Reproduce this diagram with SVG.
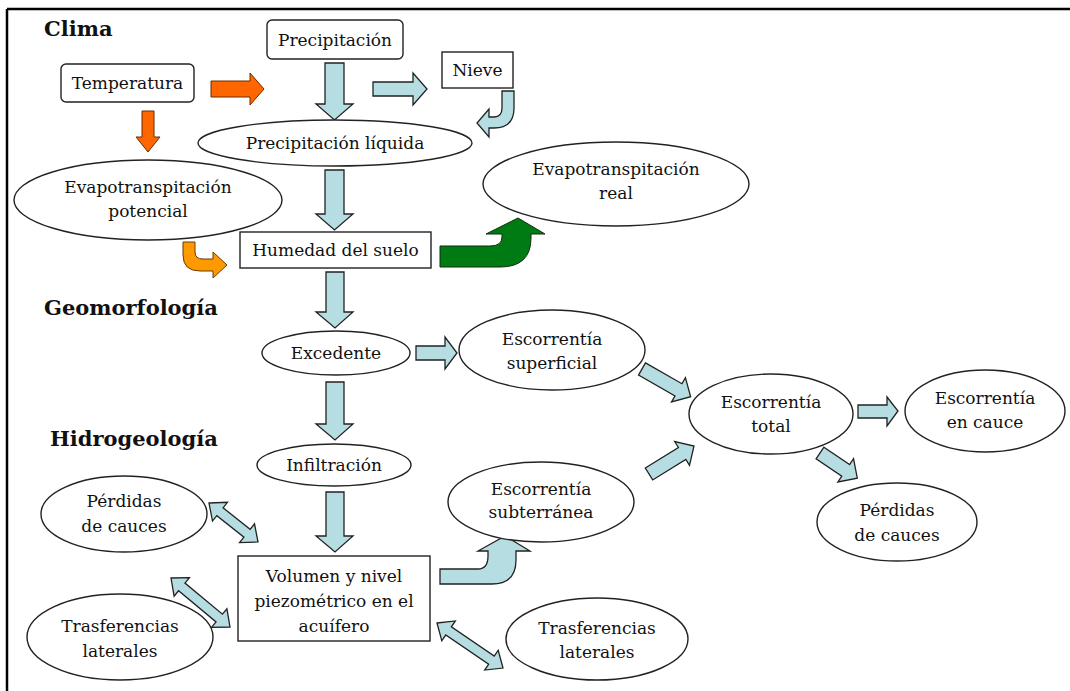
<svg xmlns="http://www.w3.org/2000/svg" width="1070" height="691" viewBox="0 0 1070 691">
<style>
text{font-family:"DejaVu Serif","Liberation Serif",serif;font-size:17px;fill:#111;text-anchor:middle}
.h{font-size:21px;font-weight:bold;text-anchor:start}
.n{fill:#fff;stroke:#222;stroke-width:1.4}
.lb{fill:#b6dde2;stroke:#222;stroke-width:1.3;stroke-linejoin:miter}
.or{fill:#ff6600;stroke:#6a2a00;stroke-width:1}
.oy{fill:#ff9900;stroke:#6a3a00;stroke-width:1}
.gr{fill:#007a12;stroke:#0f2f0f;stroke-width:1}
</style>
<rect x="0" y="0" width="1070" height="691" fill="#fff"/>
<path d="M7 9 H1070 M7 9 V691" stroke="#000" stroke-width="2.5" fill="none"/>
<g id="labels">
<text class="h" x="44" y="36">Clima</text>
<text class="h" x="44" y="315">Geomorfología</text>
<text class="h" x="50" y="446">Hidrogeología</text>
</g>
<g id="connectors">
<polygon class="or" points="211,81 250,81 250,73 264,89 250,105 250,97 211,97"/>
<polygon class="or" points="142,111 154,111 154,137 160,137 148,152 136,137 142,137"/>
<polygon class="lb" points="325,63 344,63 344,104 353,104 334.5,120 316,104 325,104"/>
<polygon class="lb" points="373,82 413,82 413,73 427,89 413,105 413,96 373,96"/>
<path class="lb" d="M502 91 L514 91 L514 108 Q514 128 494 128 L489 128 L489 137 L477 123 L489 109 L489 117 L494 117 Q502 117 502 108 Z"/>
<polygon class="lb" points="325,170 344,170 344,214 353,214 334.5,230 316,214 325,214"/>
<path class="oy" d="M183 242 L195 242 L195 252 Q195 259 203 259 L213 259 L213 252 L227 265 L213 278 L213 271 L200 271 Q183 271 183 255 Z"/>
<path class="gr" d="M440 246 L490 246 Q502 246 502 237 L502 234 L486 234 L518 218 L545 234 L531 234 L531 238 Q531 267 500 267 L440 267 Z"/>
<polygon class="lb" points="326,272 344,272 344,312 353,312 335,328 316,312 326,312"/>
<polygon class="lb" points="416,346 445,346 445,337 457,353 445,369 445,360 416,360"/>
<polygon class="lb" points="326,382 344,382 344,424 353,424 335,440 316,424 326,424"/>
<polygon class="lb" points="326,492 344,492 344,536 353,536 335,552 316,536 326,536"/>
<polygon class="lb" transform="translate(642,369) rotate(29.7)" points="0,-7 42,-7 42,-14 56,0 42,14 42,7 0,7"/>
<polygon class="lb" transform="translate(649,474) rotate(-31.9)" points="0,-7 39,-7 39,-14 53,0 39,14 39,7 0,7"/>
<polygon class="lb" points="858,405 887,405 887,397 898,411 887,426 887,418 858,418"/>
<polygon class="lb" transform="translate(820,453) rotate(34)" points="0,-7 31,-7 31,-14 45,0 31,14 31,7 0,7"/>
<polygon class="lb" transform="translate(209,503) rotate(38.5)" points="0,0 14,-12 14,-5 48.6,-5 48.6,-12 62.6,0 48.6,12 48.6,5 14,5 14,12"/>
<polygon class="lb" transform="translate(171,578) rotate(39.7)" points="0,0 14,-12 14,-5 62.7,-5 62.7,-12 76.7,0 62.7,12 62.7,5 14,5 14,12"/>
<polygon class="lb" transform="translate(437,623) rotate(34.3)" points="0,0 14,-12 14,-5 65.9,-5 65.9,-12 79.9,0 65.9,12 65.9,5 14,5 14,12"/>
<path class="lb" d="M440 569 L478 569 Q488 569 488 556 L488 551 L478 551 L505 536 L530 551 L516 551 L516 560 Q516 584 492 584 L440 584 Z"/>
</g>
<g id="precipitacion"><rect class="n" x="267" y="20" width="136" height="39" rx="5"/><text x="335" y="46">Precipitación</text></g>
<g id="temperatura"><rect class="n" x="61" y="64" width="133" height="38" rx="5"/><text x="127.5" y="89">Temperatura</text></g>
<g id="nieve"><rect class="n" x="442" y="52" width="71" height="36"/><text x="477.5" y="76">Nieve</text></g>
<g id="precip-liquida"><ellipse class="n" cx="335" cy="143" rx="137" ry="23"/><text x="335" y="149">Precipitación líquida</text></g>
<g id="evap-potencial"><ellipse class="n" cx="148" cy="200" rx="134" ry="40"/><text x="148" y="193">Evapotranspitación</text><text x="148" y="217">potencial</text></g>
<g id="evap-real"><ellipse class="n" cx="616" cy="184" rx="133" ry="42"/><text x="616" y="175">Evapotranspitación</text><text x="616" y="199">real</text></g>
<g id="humedad"><rect class="n" x="240" y="232" width="191" height="36"/><text x="335.5" y="256">Humedad del suelo</text></g>
<g id="excedente"><ellipse class="n" cx="336" cy="353" rx="74" ry="22"/><text x="336" y="359">Excedente</text></g>
<g id="esc-superficial"><ellipse class="n" cx="552" cy="350" rx="93" ry="40"/><text x="552" y="345">Escorrentía</text><text x="552" y="369">superficial</text></g>
<g id="infiltracion"><ellipse class="n" cx="334" cy="465" rx="77" ry="21"/><text x="334" y="471">Infiltración</text></g>
<g id="esc-subterranea"><ellipse class="n" cx="541" cy="502" rx="93" ry="40"/><text x="541" y="495">Escorrentía</text><text x="541" y="518">subterránea</text></g>
<g id="esc-total"><ellipse class="n" cx="771" cy="414" rx="82" ry="40"/><text x="771" y="408">Escorrentía</text><text x="771" y="432">total</text></g>
<g id="esc-cauce"><ellipse class="n" cx="985" cy="411" rx="80" ry="41"/><text x="985" y="404">Escorrentía</text><text x="985" y="428">en cauce</text></g>
<g id="perdidas-der"><ellipse class="n" cx="897" cy="522" rx="80" ry="39"/><text x="897" y="516">Pérdidas</text><text x="897" y="541">de cauces</text></g>
<g id="perdidas-izq"><ellipse class="n" cx="124" cy="514" rx="83" ry="38"/><text x="124" y="507">Pérdidas</text><text x="124" y="532">de cauces</text></g>
<g id="volumen"><rect class="n" x="238" y="556" width="192" height="85"/><text x="334" y="582">Volumen y nivel</text><text x="334" y="607">piezométrico en el</text><text x="334" y="632">acuífero</text></g>
<g id="trasf-izq"><ellipse class="n" cx="120" cy="637" rx="93" ry="43"/><text x="120" y="632">Trasferencias</text><text x="120" y="657">laterales</text></g>
<g id="trasf-der"><ellipse class="n" cx="597" cy="639" rx="91" ry="41"/><text x="597" y="634">Trasferencias</text><text x="597" y="658">laterales</text></g>
</svg>
